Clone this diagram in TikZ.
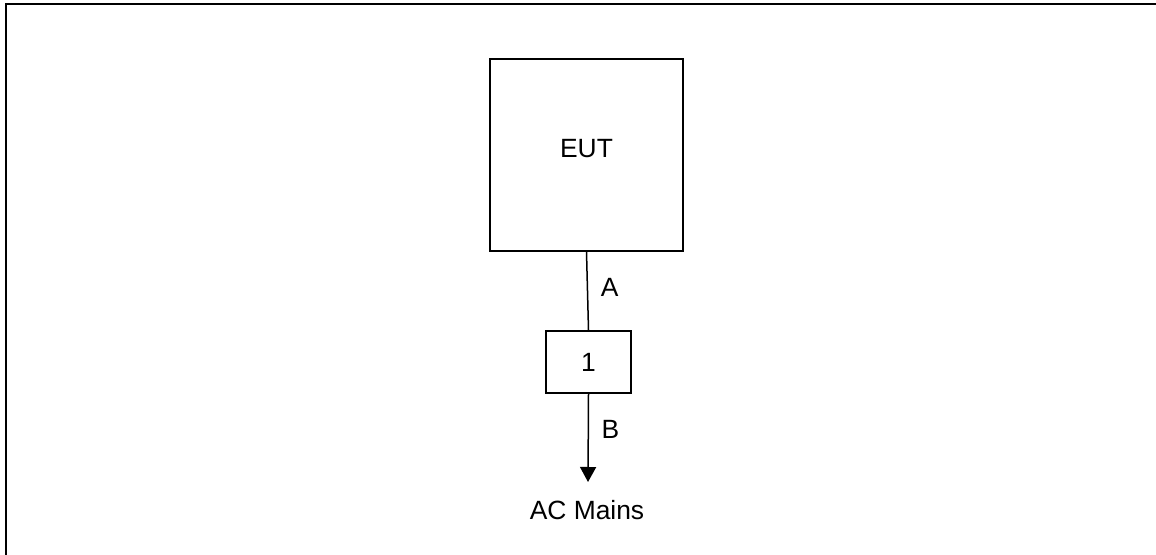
\documentclass[tikz,border=0pt]{standalone}
\usepackage{fontspec}
\setmainfont{Liberation Sans}
\usetikzlibrary{arrows.meta}

\begin{document}
\begin{tikzpicture}[x=0.5pt, y=-0.5pt,
                    font=\fontsize{13.2}{16}\selectfont,
                    box/.style={draw, line width=0.75pt, inner sep=0pt},
                    wire/.style={line width=0.75pt}]
                    \useasboundingbox (0,0) rectangle (1156,555);
                    \draw[line width=1pt] (6,555) -- (6,4) -- (1156,4);
                    \node[box, minimum width=96.5pt, minimum height=96pt, text depth=7pt] (eut) at (586.5,155) {EUT};
                    \node[box, minimum width=42.5pt, minimum height=31pt] (filter) at (588.5,362) {1};
                    \node (mains) at (587,510) {AC Mains};
                    \coordinate (tip) at (588,482);
                    \draw[wire] (eut.south) -- node[pos=0.45, right, xshift=3pt] {A} (filter.north);
                    \draw[wire, -{Triangle[length=7.5pt, width=8pt]}] (filter.south) -- node[pos=0.4, right, xshift=3pt] {B} (tip);
                \end{tikzpicture}
\end{document}
